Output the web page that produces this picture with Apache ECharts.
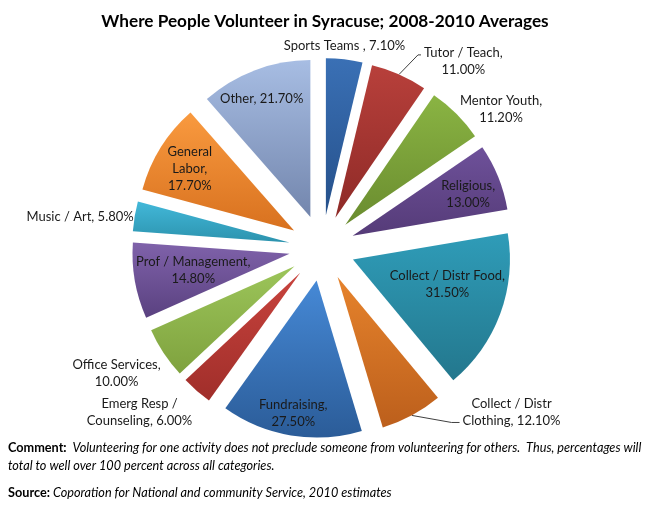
<!DOCTYPE html>
<html><head><meta charset="utf-8">
<script src="https://cdn.jsdelivr.net/npm/echarts@6/dist/echarts.min.js"></script>
<style>html,body{margin:0;padding:0;background:#fff}#c{width:650px;height:507px}</style>
</head><body><div id="c"></div>
<script>
const titleText = 'Where People Volunteer in Syracuse; 2008-2010 Averages';
const categories = ['Sports Teams ', 'Tutor / Teach', 'Mentor Youth', 'Religious', 'Collect / Distr Food',
  'Collect / Distr\nClothing', 'Fundraising', 'Emerg Resp /\nCounseling', 'Office Services',
  'Prof / Management', 'Music / Art', 'General\nLabor', 'Other'];
const values = [7.1, 11.0, 11.2, 13.0, 31.5, 12.1, 27.5, 6.0, 10.0, 14.8, 5.8, 17.7, 21.7];
const breakBeforeValue = [false, true, true, true, true, false, true, false, true, true, false, true, false];

// styling / layout (not data)
const topColors = ['#3A70B5', '#B8403B', '#8AB443', '#6E519A', '#2F9CB8', '#E6832C', '#4689D6',
  '#C8433D', '#9CC55A', '#7F62AA', '#42B8D9', '#F99A3F', '#A7BDE3'];
const bottomColors = ['#25508A', '#8E2A27', '#6A8C2F', '#553B78', '#23778D', '#BC5F1C', '#2B5C98',
  '#A02E2A', '#7FA23E', '#5A4180', '#2C93AE', '#D8711F', '#7386AD'];
const labelPlacement = ['inside', 'outside', 'inside', 'inside', 'inside', 'outside', 'inside',
  'inside', 'inside', 'inside', 'inside', 'inside', 'inside'];
const labelNudge = [[9, -88], [7, -2], [98, -58], [40, -11], [18, -3], [32, -14], [-10, 52],
  [-107, 78], [-110, 62], [-16, 2], [-129, -12], [-35, -19], [-20, -42]];
const leaderRow = [0, 0, 0, 0, 0, 1, 0, 0, 0, 0, 0, 0, 0];
const leaderElbow = [0, 3, 0, 0, 0, 8, 0, 0, 0, 0, 0, 0, 0];

const FONT = 'Lato, "Open Sans", sans-serif';
const LINE_H = 17;

const data = categories.map((name, i) => ({
  name: name,
  value: values[i],
  selected: true,
  itemStyle: {
    color: {
      type: 'linear', x: 0, y: 0, x2: 0, y2: 1,
      colorStops: [{ offset: 0, color: topColors[i] }, { offset: 1, color: bottomColors[i] }]
    }
  },
  label: { position: labelPlacement[i] },
  labelLine: { show: labelPlacement[i] === 'outside' }
}));

const chart = echarts.init(document.getElementById('c'), null, { renderer: 'canvas' });
chart.setOption({
  animation: false,
  backgroundColor: '#ffffff',
  title: {
    text: titleText,
    left: 'center',
    top: 8,
    textStyle: { fontFamily: FONT, fontSize: 17.2, fontWeight: 'bold', color: '#000' }
  },
  series: [{
    type: 'pie',
    center: [322, 248],
    radius: [0, 157],
    startAngle: 90,
    clockwise: true,
    selectedMode: 'multiple',
    selectedOffset: 33,
    avoidLabelOverlap: false,
    minShowLabelAngle: 0,
    emphasis: { disabled: true },
    select: { itemStyle: { borderWidth: 0 } },
    itemStyle: { borderWidth: 0 },
    label: {
      show: true,
      fontFamily: FONT,
      fontSize: 13,
      color: '#1a1a1a',
      lineHeight: LINE_H,
      align: 'center',
      formatter: (p) => p.name + ',' + (breakBeforeValue[p.dataIndex] ? '\n' : ' ') + p.value.toFixed(2) + '%'
    },
    labelLine: { length: 12, length2: 8, lineStyle: { color: '#404040', width: 1 } },
    labelLayout: (p) => {
      const i = p.dataIndex;
      const dx = labelNudge[i][0], dy = labelNudge[i][1];
      if (labelPlacement[i] === 'outside' && p.labelLinePoints) {
        const r = p.labelRect;
        const ex = r.x + dx - 3;
        const ey = r.y + dy + leaderRow[i] * LINE_H + LINE_H / 2 + 2;
        return {
          dx: dx + r.width / 2,
          dy: dy,
          align: 'center',
          labelLinePoints: [p.labelLinePoints[0], [ex - leaderElbow[i], ey], [ex, ey]]
        };
      }
      return { dx: dx, dy: dy };
    },
    data: data
  }],
  graphic: [
    {
      type: 'text', left: 8, top: 441,
      style: {
        text: '{b|Comment:}{i|  Volunteering for one activity does not preclude someone from volunteering for others.  Thus, percentages will}\n{i|total to well over 100 percent across all categories.}',
        rich: {
          b: { fontFamily: FONT, fontSize: 12.7, fontWeight: 'bold', fill: '#000', lineHeight: 18 },
          i: { fontFamily: FONT, fontSize: 12.7, fontStyle: 'italic', fill: '#000', lineHeight: 18 }
        }
      }
    },
    {
      type: 'text', left: 8, top: 486,
      style: {
        text: '{b|Source:}{i| Coporation for National and community Service, 2010 estimates}',
        rich: {
          b: { fontFamily: FONT, fontSize: 12.7, fontWeight: 'bold', fill: '#000', lineHeight: 18 },
          i: { fontFamily: FONT, fontSize: 12.7, fontStyle: 'italic', fill: '#000', lineHeight: 18 }
        }
      }
    }
  ]
});
</script>
</body></html>
